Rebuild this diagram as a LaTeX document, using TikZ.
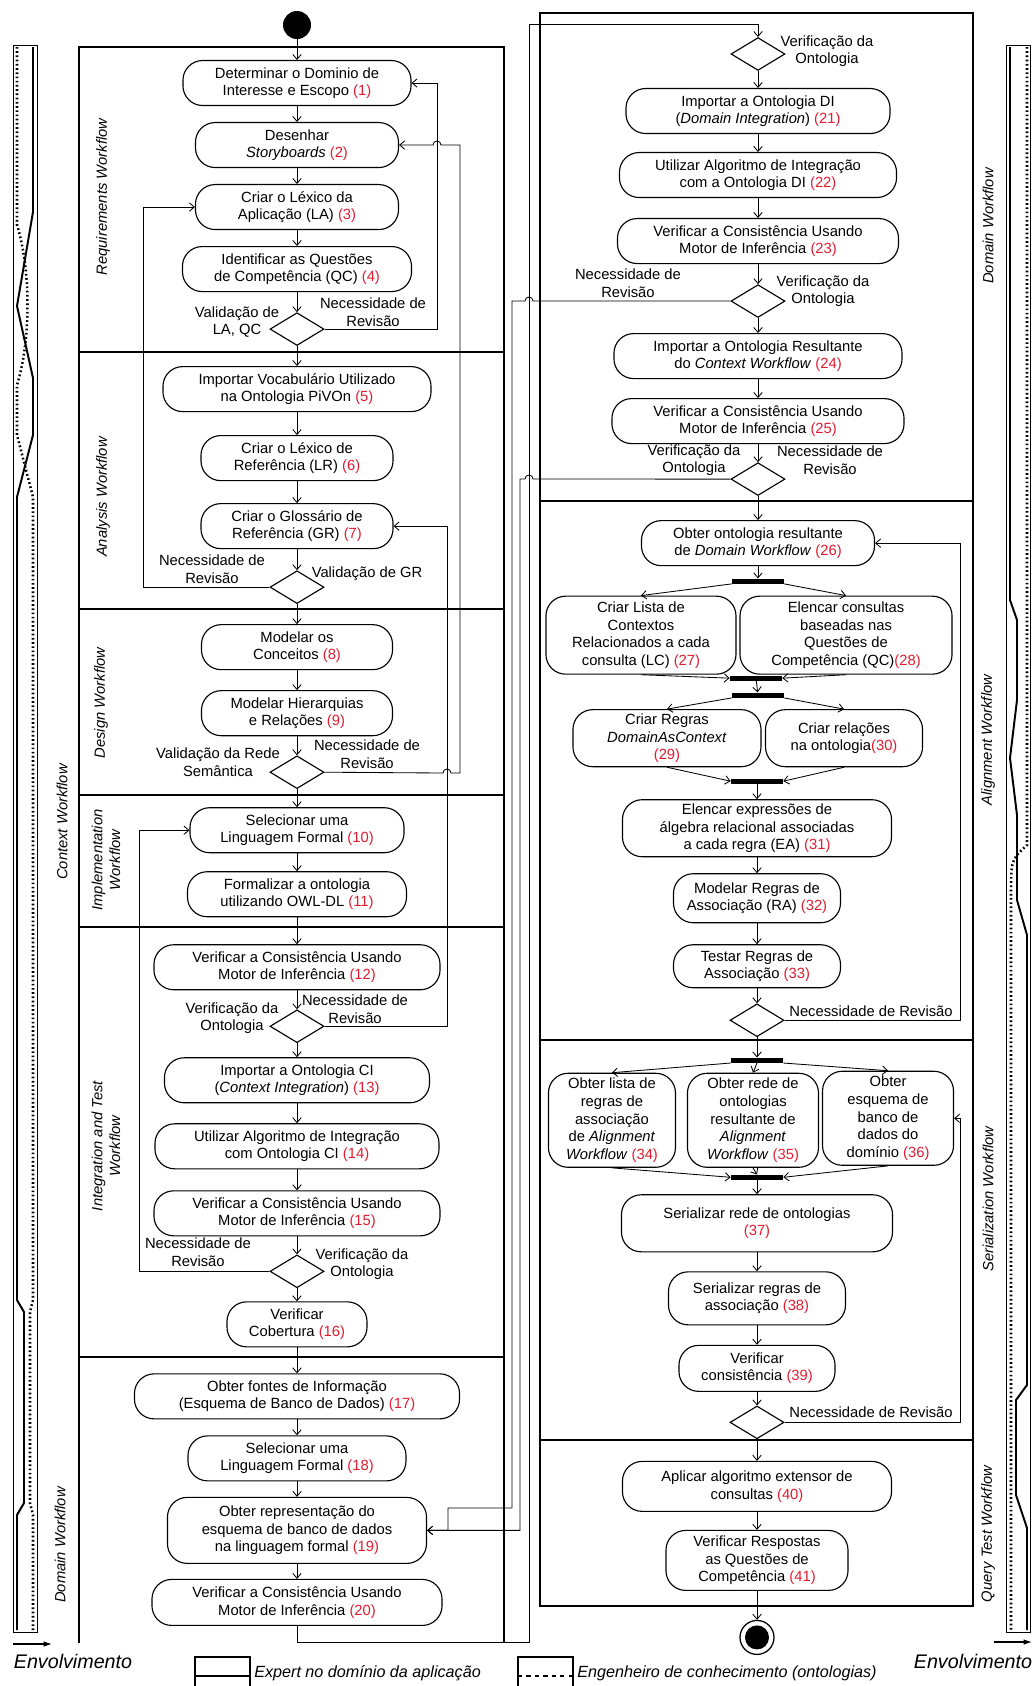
\documentclass[tikz,border=0pt]{standalone}
\usepackage{fontspec}
\setmainfont{Liberation Sans}
\usepackage{tikz}
\usetikzlibrary{positioning,shapes.geometric,arrows.meta}
\definecolor{numred}{RGB}{226,28,48}
\newcommand{\stepno}[1]{\textcolor{numred}{(#1)}}

\tikzset{
  act/.style={draw, line width=0.8pt, rounded corners=14pt, align=center, inner xsep=6pt, inner ysep=2pt, minimum height=1.125cm, font=\fontsize{10.5}{12.5}\selectfont},
  dec/.style={draw, line width=0.8pt, diamond, minimum width=1.35cm, minimum height=0.82cm, inner sep=0pt},
  bar/.style={fill=black, minimum width=1.3cm, minimum height=3.5pt, inner sep=0pt},
  startdot/.style={circle, fill=black, minimum size=0.7cm, inner sep=0pt},
  enddot/.style={circle, draw, line width=0.9pt, minimum size=0.85cm, inner sep=0pt, path picture={\fill (path picture bounding box.center) circle (0.3cm);}},
  flow/.style={line width=0.6pt, -{Straight Barb[length=3.5pt,width=6pt]}},
  lbl/.style={align=center, inner sep=0pt, font=\fontsize{10.5}{12.5}\selectfont},
  lane/.style={align=center, rotate=90, inner sep=0pt, font=\fontsize{10.5}{12.5}\selectfont\itshape},
  frame/.style={line width=2pt},
  expert/.style={line width=1.4pt},
  engineer/.style={line width=1.8pt, dash pattern=on 1.2pt off 1.8pt},
  legend/.style={anchor=west, inner sep=0pt, font=\fontsize{11.5}{13}\selectfont\itshape},
}

\begin{document}
\begin{tikzpicture}[x=0.025cm, y=-0.025cm, node distance=1.55cm]
    \useasboundingbox (0,0) rectangle (1034,1686);

    % Swimlane frames
    \draw[frame] (79,1643) -- (79,47) -- (504,47) -- (504,1643);
    \draw[frame] (79,352) -- (504,352);
    \draw[frame] (79,609) -- (504,609);
    \draw[frame] (79,795) -- (504,795);
    \draw[frame] (79,927) -- (504,927);
    \draw[frame] (79,1357) -- (504,1357);
    \draw[frame] (540,13) rectangle (973,1606);
    \draw[frame] (540,501) -- (973,501);
    \draw[frame] (540,1040) -- (973,1040);
    \draw[frame] (540,1440) -- (973,1440);

    % Lane titles
    \node[lane] (lreq) at (103,197) {Requirements Workflow};
    \node[lane] (lana) at (103,497) {Analysis Workflow};
    \node[lane] (ldes) at (101,703) {Design Workflow};
    \node[lane] (limp) at (106,860) {Implementation\\Workflow};
    \node[lane] (lint) at (106,1146) {Integration and Test\\Workflow};
    \node[lane] (lctx) at (62,822) {Context Workflow};
    \node[lane] (ldom) at (60,1545) {Domain Workflow};
    \node[lane] (rdom) at (988,226) {Domain Workflow};
    \node[lane] (rali) at (988,740) {Alignment Workflow};
    \node[lane] (rser) at (988,1199) {Serialization Workflow};
    \node[lane] (rqry) at (988,1534) {Query Test Workflow};

    % Context workflow activities
    \node[startdot] (start) at (297,25) {};
    \node[act, minimum width=5.7cm, below of=start, yshift=0.1cm] (n1) {Determinar o Dominio de\\Interesse e Escopo \stepno{1}};
    \node[act, minimum width=5.075cm, below of=n1] (n2) {Desenhar\\\textit{Storyboards} \stepno{2}};
    \node[act, minimum width=5.075cm, below of=n2] (n3) {Criar o Léxico da\\Aplicação (LA) \stepno{3}};
    \node[act, minimum width=5.725cm, below of=n3] (n4) {Identificar as Questões\\de Competência (QC) \stepno{4}};
    \node[dec, below of=n4, yshift=0.05cm] (d1) {};
    \node[act, minimum width=6.7cm, below of=d1, yshift=0.05cm] (n5) {Importar Vocabulário Utilizado\\na Ontologia PiVOn \stepno{5}};
    \node[act, minimum width=4.8cm, below of=n5, yshift=-0.175cm] (n6) {Criar o Léxico de\\Referência (LR) \stepno{6}};
    \node[act, minimum width=4.8cm, below of=n6, yshift=-0.15cm] (n7) {Criar o Glossário de\\Referência (GR) \stepno{7}};
    \node[dec, below of=n7, yshift=0.025cm] (d2) {};
    \node[act, minimum width=4.775cm, below of=d2, yshift=0.05cm] (n8) {Modelar os\\Conceitos \stepno{8}};
    \node[act, minimum width=4.775cm, below of=n8, yshift=-0.1cm] (n9) {Modelar Hierarquias\\e Relações \stepno{9}};
    \node[dec, below of=n9, yshift=0.075cm] (d3) {};
    \node[act, minimum width=5.35cm, below of=d3, yshift=0.1cm] (n10) {Selecionar uma\\Linguagem Formal \stepno{10}};
    \node[act, minimum width=5.475cm, below of=n10, yshift=-0.05cm] (n11) {Formalizar a ontologia\\utilizando OWL-DL \stepno{11}};
    \node[act, minimum width=7.15cm, below of=n11, yshift=-0.275cm] (n12) {Verificar a Consistência Usando\\Motor de Inferência \stepno{12}};
    \node[dec, below of=n12, yshift=0.075cm] (d4) {};
    \node[act, minimum width=6.625cm, below of=d4, yshift=0.2cm] (n13) {Importar a Ontologia CI\\(\textit{Context Integration}) \stepno{13}};
    \node[act, minimum width=7.1cm, below of=n13, yshift=-0.1cm] (n14) {Utilizar Algoritmo de Integração\\com Ontologia CI \stepno{14}};
    \node[act, minimum width=7.15cm, below of=n14, yshift=-0.125cm] (n15) {Verificar a Consistência Usando\\Motor de Inferência \stepno{15}};
    \node[dec, below of=n15, yshift=0.1cm] (d5) {};
    \node[act, minimum width=3.5cm, below of=d5, yshift=0.225cm] (n16) {Verificar\\Cobertura \stepno{16}};

    % Domain workflow (left column)
    \node[act, minimum width=8.125cm, below of=n16, yshift=-0.25cm] (n17) {Obter fontes de Informação\\(Esquema de Banco de Dados) \stepno{17}};
    \node[act, minimum width=5.45cm, below of=n17] (n18) {Selecionar uma\\Linguagem Formal \stepno{18}};
    \node[act, minimum width=6.475cm, minimum height=1.65cm, below of=n18, yshift=-0.25cm] (n19) {Obter representação do\\esquema de banco de dados\\na linguagem formal \stepno{19}};
    \node[act, minimum width=7.25cm, minimum height=1.15cm, below of=n19, yshift=-0.25cm] (n20) {Verificar a Consistência Usando\\Motor de Inferência \stepno{20}};

    % Domain workflow (right column)
    \node[dec] (d6) at (758,54) {};
    \node[act, minimum width=6.6cm, below of=d6, yshift=0.125cm] (n21) {Importar a Ontologia DI\\(\textit{Domain Integration}) \stepno{21}};
    \node[act, minimum width=6.925cm, below of=n21, yshift=-0.05cm] (n22) {Utilizar Algoritmo de Integração\\com a Ontologia DI \stepno{22}};
    \node[act, minimum width=7.025cm, below of=n22, yshift=-0.1cm] (n23) {Verificar a Consistência Usando\\Motor de Inferência \stepno{23}};
    \node[dec, below of=n23, yshift=0.05cm] (d7) {};
    \node[act, minimum width=7.2cm, below of=d7, yshift=0.175cm] (n24) {Importar a Ontologia Resultante\\do \textit{Context Workflow} \stepno{24}};
    \node[act, minimum width=7.3cm, below of=n24, yshift=-0.075cm] (n25) {Verificar a Consistência Usando\\Motor de Inferência \stepno{25}};
    \node[dec, below of=n25, yshift=0.1cm] (d8) {};

    % Alignment workflow
    \node[act, minimum width=5.825cm, below of=d8, yshift=-0.05cm] (n26) {Obter ontologia resultante\\de \textit{Domain Workflow} \stepno{26}};
    \node[bar, below of=n26, yshift=0.6cm] (fork1) {};
    \node[act, minimum width=4.75cm, minimum height=1.95cm, below of=fork1, xshift=-2.925cm, yshift=0.2cm] (n27) {Criar Lista de\\Contextos\\Relacionados a cada\\consulta (LC) \stepno{27}};
    \node[act, minimum width=5.3cm, minimum height=1.95cm, below of=fork1, xshift=2.2cm, yshift=0.2cm] (n28) {Elencar consultas\\baseadas nas\\Questões de\\Competência (QC)\stepno{28}};
    \node[bar, below of=fork1, xshift=-0.05cm, yshift=-0.875cm] (join2) {};
    \node[bar, below of=join2, xshift=0.05cm, yshift=1.125cm] (fork3) {};
    \node[act, minimum width=4.7cm, minimum height=1.425cm, below of=fork3, xshift=-2.275cm, yshift=0.475cm] (n29) {Criar Regras\\\textit{DomainAsContext}\\\stepno{29}};
    \node[act, minimum width=3.925cm, minimum height=1.425cm, below of=fork3, xshift=2.15cm, yshift=0.475cm] (n30) {Criar relações\\na ontologia\stepno{30}};
    \node[bar, below of=fork3, xshift=-0.025cm, yshift=-0.6cm] (join4) {};
    \node[act, minimum width=6.725cm, minimum height=1.425cm, below of=join4, yshift=0.375cm] (n31) {Elencar expressões de\\álgebra relacional associadas\\a cada regra (EA) \stepno{31}};
    \node[act, minimum width=4.175cm, minimum height=1.225cm, below of=n31, yshift=-0.2cm] (n32) {Modelar Regras de\\Associação (RA) \stepno{32}};
    \node[act, minimum width=4.175cm, minimum height=1.075cm, below of=n32, yshift=-0.15cm] (n33) {Testar Regras de\\Associação \stepno{33}};
    \node[dec, below of=n33, yshift=0.2cm] (d9) {};

    % Serialization workflow
    \node[bar, below of=d9, yshift=0.55cm] (fork5) {};
    \node[act, minimum width=3.175cm, minimum height=2.35cm, below of=fork5, xshift=-3.625cm, yshift=0.05cm] (n34) {Obter lista de\\regras de\\associação\\de \textit{Alignment}\\\textit{Workflow} \stepno{34}};
    \node[act, minimum width=3.275cm, minimum height=2.35cm, below of=fork5, xshift=-0.1cm, yshift=0.05cm] (n35) {Obter rede de\\ontologias\\resultante de\\\textit{Alignment}\\\textit{Workflow} \stepno{35}};
    \node[act, minimum width=3.275cm, minimum height=2.35cm, below of=fork5, xshift=3.275cm, yshift=0.1cm] (n36) {Obter\\esquema de\\banco de\\dados do\\domínio \stepno{36}};
    \node[bar, below of=fork5, yshift=-1.375cm] (join6) {};
    \node[act, minimum width=6.775cm, minimum height=1.425cm, below of=join6, yshift=0.4cm] (n37) {Serializar rede de ontologias\\\stepno{37}};
    \node[act, minimum width=4.425cm, minimum height=1.325cm, below of=n37, yshift=-0.325cm] (n38) {Serializar regras de\\associação \stepno{38}};
    \node[act, minimum width=3.9cm, minimum height=1.15cm, below of=n38, yshift=-0.2cm] (n39) {Verificar\\consistência \stepno{39}};
    \node[dec, below of=n39, yshift=0.2cm] (d10) {};

    % Query test workflow
    \node[act, minimum width=6.725cm, minimum height=1.25cm, below of=d10, yshift=-0.05cm] (n40) {Aplicar algoritmo extensor de\\consultas \stepno{40}};
    \node[act, minimum width=4.55cm, minimum height=1.5cm, below of=n40, yshift=-0.3cm] (n41) {Verificar Respostas\\as Questões de\\Competência \stepno{41}};
    \node[enddot, below of=n41, yshift=-0.375cm] (fim) {};

    % Guard labels
    \node[lbl, left of=d1, xshift=0.05cm, yshift=0.175cm] (l1a) {Validação de\\LA, QC};
    \node[lbl, right of=d1, xshift=0.35cm, yshift=0.425cm] (l1b) {Necessidade de\\Revisão};
    \node[lbl, left of=d2, xshift=-0.575cm, yshift=0.45cm] (l2a) {Necessidade de\\Revisão};
    \node[lbl, right of=d2, xshift=0.2cm, yshift=0.325cm] (l2b) {Validação de GR};
    \node[lbl, left of=d3, xshift=-0.425cm, yshift=0.25cm] (l3a) {Validação da Rede\\Semântica};
    \node[lbl, right of=d3, xshift=0.2cm, yshift=0.45cm] (l3b) {Necessidade de\\Revisão};
    \node[lbl, left of=d4, xshift=-0.075cm, yshift=0.2cm] (l4a) {Verificação da\\Ontologia};
    \node[lbl, right of=d4, xshift=-0.1cm, yshift=0.425cm] (l4b) {Necessidade de\\Revisão};
    \node[lbl, left of=d5, xshift=-0.925cm, yshift=0.475cm] (l5a) {Necessidade de\\Revisão};
    \node[lbl, right of=d5, xshift=0.075cm, yshift=0.175cm] (l5b) {Verificação da\\Ontologia};
    \node[lbl, right of=d6, xshift=0.175cm, yshift=0.075cm] (l6b) {Verificação da\\Ontologia};
    \node[lbl, left of=d7, xshift=-1.7cm, yshift=0.45cm] (l7a) {Necessidade de\\Revisão};
    \node[lbl, right of=d7, xshift=0.075cm, yshift=0.25cm] (l7b) {Verificação da\\Ontologia};
    \node[lbl, left of=d8, xshift=-0.05cm, yshift=0.475cm] (l8a) {Verificação da\\Ontologia};
    \node[lbl, right of=d8, xshift=0.25cm, yshift=0.475cm] (l8b) {Necessidade de\\Revisão};
    \node[lbl, right of=d9, xshift=1.3cm, yshift=0.225cm] (l9b) {Necessidade de Revisão};
    \node[lbl, right of=d10, xshift=1.3cm, yshift=0.25cm] (l10b) {Necessidade de Revisão};

    % Main flow, left column
    \draw[flow] (start) -- (n1);
    \draw[flow] (n1) -- (n2);
    \draw[flow] (n2) -- (n3);
    \draw[flow] (n3) -- (n4);
    \draw[flow] (n4) -- (d1);
    \draw[flow] (d1) -- (n5);
    \draw[flow] (n5) -- (n6);
    \draw[flow] (n6) -- (n7);
    \draw[flow] (n7) -- (d2);
    \draw[flow] (d2) -- (n8);
    \draw[flow] (n8) -- (n9);
    \draw[flow] (n9) -- (d3);
    \draw[flow] (d3) -- (n10);
    \draw[flow] (n10) -- (n11);
    \draw[flow] (n11) -- (n12);
    \draw[flow] (n12) -- (d4);
    \draw[flow] (d4) -- (n13);
    \draw[flow] (n13) -- (n14);
    \draw[flow] (n14) -- (n15);
    \draw[flow] (n15) -- (d5);
    \draw[flow] (d5) -- (n16);
    \draw[flow] (n16) -- (n17);
    \draw[flow] (n17) -- (n18);
    \draw[flow] (n18) -- (n19);
    \draw[flow] (n19) -- (n20);
    \draw[flow] (n20.south) |- (529,1642) -- (529,24) -| (d6.north);

    % Main flow, right column
    \draw[flow] (d6) -- (n21);
    \draw[flow] (n21) -- (n22);
    \draw[flow] (n22) -- (n23);
    \draw[flow] (n23) -- (d7);
    \draw[flow] (d7) -- (n24);
    \draw[flow] (n24) -- (n25);
    \draw[flow] (n25) -- (d8);
    \draw[flow] (d8) -- (n26);
    \draw[flow] (n26) -- (fork1);
    \draw[flow] (fork1.south west) -- (n27.north);
    \draw[flow] (fork1.south east) -- (n28.north);
    \draw[flow] (n27.south) -- (join2.west);
    \draw[flow] (n28.south) -- (join2.east);
    \draw[flow] (join2) -- (fork3);
    \draw[flow] (fork3.south west) -- (n29.north);
    \draw[flow] (fork3.south east) -- (n30.north);
    \draw[flow] (n29.south) -- (join4.west);
    \draw[flow] (n30.south) -- (join4.east);
    \draw[flow] (join4) -- (n31);
    \draw[flow] (n31) -- (n32);
    \draw[flow] (n32) -- (n33);
    \draw[flow] (n33) -- (d9);
    \draw[flow] (d9) -- (fork5);
    \draw[flow] (fork5.south west) -- (n34.north);
    \draw[flow] (fork5.south) -- (n35.north);
    \draw[flow] (fork5.south east) -- (n36.north);
    \draw[flow] (n34.south) -- (join6.west);
    \draw[flow] (n35.south) -- (join6.north);
    \draw[flow] (n36.south) -- (join6.east);
    \draw[flow] (join6) -- (n37);
    \draw[flow] (n37) -- (n38);
    \draw[flow] (n38) -- (n39);
    \draw[flow] (n39) -- (d10);
    \draw[flow] (d10) -- (n40);
    \draw[flow] (n40) -- (n41);
    \draw[flow] (n41) -- (fim);

    % Revision loops
    \draw[flow] (d1.east) -- ++(113,0) |- (n1.east);
    \draw[flow] (d2.west) -- ++(-126,0) |- (n3.west);
    \draw[flow] (d3.east) -- (443,773) arc[start angle=180, end angle=0, radius=0.1cm] -- (460,773) |- (441,145) arc[start angle=0, end angle=180, radius=0.1cm] -- (n2.east);
    \draw[flow] (d4.east) -- ++(123,0) |- (n7.east);
    \draw[flow] (d5.west) -- ++(-130,0) |- (n10.west);
    \draw[flow] (d7.west) -- (533,301) arc[start angle=0, end angle=180, radius=0.1cm] -- (512,301) |- (448,1508) |- (n19.east);
    \draw[flow] (d8.west) -- (533,479) arc[start angle=0, end angle=180, radius=0.1cm] -- (520,479) |- (n19.east);
    \draw[flow] (d9.east) -- ++(176,0) |- (n26.east);
    \draw[flow] (d10.east) -- ++(176,0) |- (n36.east);

    % Involvement bars
    \draw[line width=0.6pt] (13,45) rectangle (37,1632);
    \draw[expert] (33,47) -- (33,212) -- (17,306) -- (33,378) -- (33,435) -- (17,497) -- (17,1300) -- (24,1312) -- (24,1503) -- (17,1515) -- (17,1630);
    \draw[engineer] (17,47) -- (17,225) .. controls (31,270) and (31,340) .. (17,385) -- (17,435) -- (33,497) -- (33,1300) -- (30,1312) -- (30,1503) -- (33,1515) -- (33,1630);
    \draw[line width=0.6pt] (1006,45) rectangle (1030,1632);
    \draw[expert] (1010,47) -- (1010,600) -- (1017,620) -- (1017,700) -- (1010,758) -- (1017,815) -- (1017,900) -- (1027,935) -- (1027,1385) -- (1016,1400) -- (1016,1495) -- (1027,1528) -- (1027,1630);
    \draw[engineer] (1027,47) -- (1027,845) .. controls (1011,860) .. (1011,895) -- (1011,1630);

    % Involvement axis
    \coordinate (envL0) at (13,1644);
    \coordinate (envL1) at (52,1644);
    \coordinate (envR0) at (994,1642);
    \coordinate (envR1) at (1032,1642);
    \draw[line width=0.8pt, -{Latex[length=6pt,width=4pt]}] (envL0) -- (envL1);
    \draw[line width=0.8pt, -{Latex[length=6pt,width=4pt]}] (envR0) -- (envR1);
    \node[font=\fontsize{14}{16}\selectfont\itshape] (envl) at (73,1661) {Envolvimento};
    \node[font=\fontsize{14}{16}\selectfont\itshape] (envr) at (973,1661) {Envolvimento};

    % Legend
    \draw[line width=0.8pt] (195,1686) -- (195,1657) -- (250,1657) -- (250,1686);
    \draw[expert, line width=1.6pt] (195,1676) -- (250,1676);
    \node[legend] (legexp) at (254,1673) {Expert no domínio da aplicação};
    \draw[line width=0.8pt] (518,1686) -- (518,1657) -- (573,1657) -- (573,1686);
    \draw[line width=1.6pt, dash pattern=on 3pt off 3pt] (518,1676) -- (573,1676);
    \node[legend] (legeng) at (577,1673) {Engenheiro de conhecimento (ontologias)};
\end{tikzpicture}
\end{document}
